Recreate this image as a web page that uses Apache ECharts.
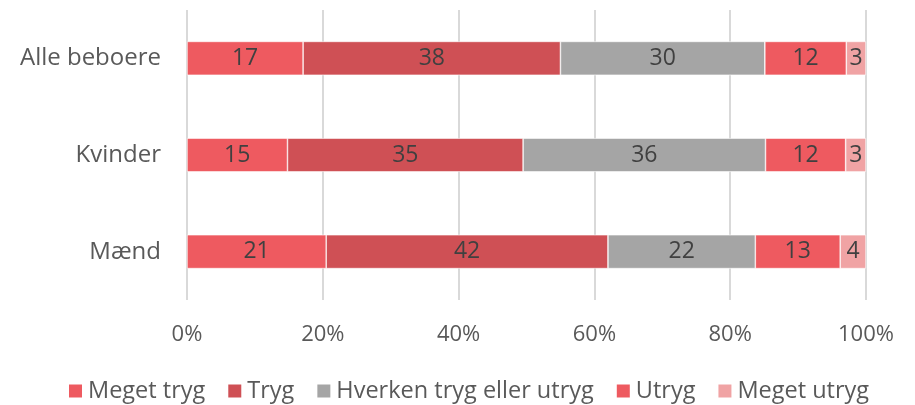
<!DOCTYPE html>
<html>
<head>
<meta charset="utf-8">
<script src="https://cdn.jsdelivr.net/npm/echarts@6/dist/echarts.min.js"></script>
<style>
  html, body { margin: 0; padding: 0; background: #fff; }
  #chart { width: 915px; height: 405px; }
</style>
</head>
<body>
<div id="chart"></div>
<script>
var categories = ['Alle beboere', 'Kvinder', 'Mænd'];
var seriesNames = ['Meget tryg', 'Tryg', 'Hverken tryg eller utryg', 'Utryg', 'Meget utryg'];
var megetTryg = [17.1, 14.8, 20.5];
var tryg = [37.9, 34.7, 41.5];
var hverken = [30.1, 35.7, 21.7];
var utryg = [12.0, 11.8, 12.5];
var megetUtryg = [2.9, 3.0, 3.8];
var colors = ['#ee5a60', '#cf5055', '#a5a5a5', '#ee5a60', '#f0a3a4'];

var chart = echarts.init(document.getElementById('chart'));
var font = '"Open Sans", "Noto Sans", sans-serif';

function makeSeries(name, data, color) {
    return {
        name: name,
        type: 'bar',
        stack: 'total',
        barWidth: '35%',
        data: data,
        itemStyle: { color: color, borderColor: '#fff', borderWidth: 0.6 },
        label: {
            show: true,
            position: 'inside',
            color: '#404040',
            fontSize: 23,
            fontFamily: font,
            formatter: function (p) { return Math.round(p.value); }
        }
    };
}

var option = {
    animation: false,
    textStyle: { fontFamily: font },
    grid: { left: 187, right: 49, top: 10, bottom: 105 },
    legend: {
        top: 379,
        left: 67,
        padding: [0, 0, 0, 0],
        icon: 'rect',
        itemWidth: 15,
        itemHeight: 15,
        itemGap: 21,
        textStyle: { fontSize: 23.5, color: '#595959', fontFamily: font },
        data: seriesNames
    },
    xAxis: {
        type: 'value',
        min: 0,
        max: 100,
        interval: 20,
        axisLabel: {
            formatter: '{value}%',
            fontSize: 22,
            color: '#595959',
            margin: 24,
            fontFamily: font
        },
        axisLine: { show: false },
        axisTick: { show: false },
        splitLine: { lineStyle: { color: '#d9d9d9', width: 2 } }
    },
    yAxis: {
        type: 'category',
        data: categories,
        inverse: true,
        axisLabel: { fontSize: 24, color: '#595959', margin: 26, fontFamily: font },
        axisLine: { show: false },
        axisTick: { show: false }
    },
    series: [
        makeSeries(seriesNames[0], megetTryg, colors[0]),
        makeSeries(seriesNames[1], tryg, colors[1]),
        makeSeries(seriesNames[2], hverken, colors[2]),
        makeSeries(seriesNames[3], utryg, colors[3]),
        makeSeries(seriesNames[4], megetUtryg, colors[4])
    ]
};

chart.setOption(option);
</script>
</body>
</html>
